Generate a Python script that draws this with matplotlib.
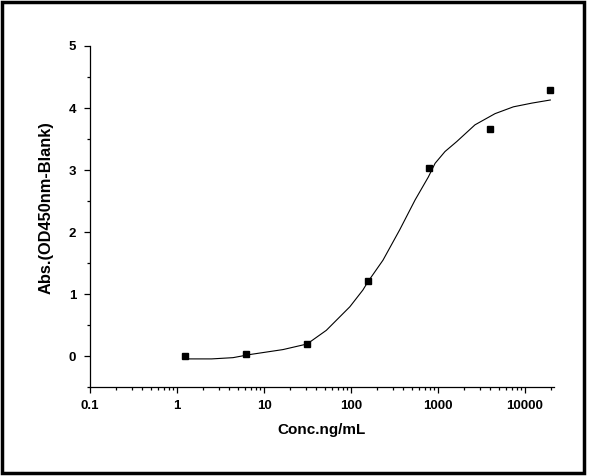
import matplotlib
matplotlib.use('Agg')
import matplotlib.pyplot as plt
from matplotlib.patches import Rectangle
from matplotlib.ticker import FixedLocator, LogLocator, NullFormatter

plt.rcParams['font.family'] = ['Liberation Sans', 'DejaVu Sans']
plt.rcParams['font.weight'] = 'bold'

# measured standards (5-fold dilution)
conc = [1.25, 6.25, 31.25, 156.25, 781.25, 3906.25, 19531.25]
absorb = [0.0, 0.04, 0.205, 1.215, 3.03, 3.66, 4.285]

# fitted curve
fit_x = [1.25, 2.5, 4.4, 6.85, 16.5, 31.25, 52, 97, 137, 156, 233, 363,
         545, 774, 925, 1203, 1640, 2660, 4520, 7350, 12000, 19531]
fit_y = [-0.04, -0.04, -0.02, 0.03, 0.11, 0.2, 0.42, 0.8, 1.07, 1.2, 1.55,
         2.04, 2.52, 2.89, 3.11, 3.30, 3.46, 3.73, 3.91, 4.02, 4.08, 4.13]

fig = plt.figure(figsize=(5.91, 4.76), dpi=100)
ax = fig.add_axes([0.1523, 0.186, 0.785, 0.7174])

ax.plot(fit_x, fit_y, color='black', lw=0.8)
ax.plot(conc, absorb, 's', color='black', ms=4.3)

ax.set_xscale('log')
ax.set_xlim(0.1, 21500)
ax.set_ylim(-0.5, 5)

ax.spines['top'].set_visible(False)
ax.spines['right'].set_visible(False)
for s in ('left', 'bottom'):
    ax.spines[s].set_linewidth(0.9)

ax.set_xticks([0.1, 1, 10, 100, 1000, 10000])
ax.set_xticklabels(['0.1', '1', '10', '100', '1000', '10000'])
ax.xaxis.set_minor_locator(LogLocator(base=10, subs=range(2, 10)))
ax.xaxis.set_minor_formatter(NullFormatter())
ax.set_yticks([0, 1, 2, 3, 4, 5])
ax.yaxis.set_minor_locator(FixedLocator([-0.5, 0.5, 1.5, 2.5, 3.5, 4.5]))

ax.tick_params(which='major', direction='out', length=4, width=0.9,
               labelsize=9.5, pad=5)
ax.tick_params(which='minor', direction='out', length=2.5, width=0.9)
ax.tick_params(axis='y', which='major', pad=6)
for lab in ax.get_xticklabels() + ax.get_yticklabels():
    lab.set_fontweight('bold')

ax.set_xlabel('Conc.ng/mL', fontsize=11, fontweight='bold', labelpad=8)
ax.set_ylabel('Abs.(OD450nm-Blank)', fontsize=11.8, fontweight='bold')
ax.yaxis.set_label_coords(-0.094, 0.526)
ax.yaxis.label.set_va('center')

# outer frame
fig.patches.append(Rectangle((0.004, 0.006), 0.985, 0.99, transform=fig.transFigure,
                             fill=False, edgecolor='black', lw=2.5))

fig.savefig('out.png', dpi=100)
